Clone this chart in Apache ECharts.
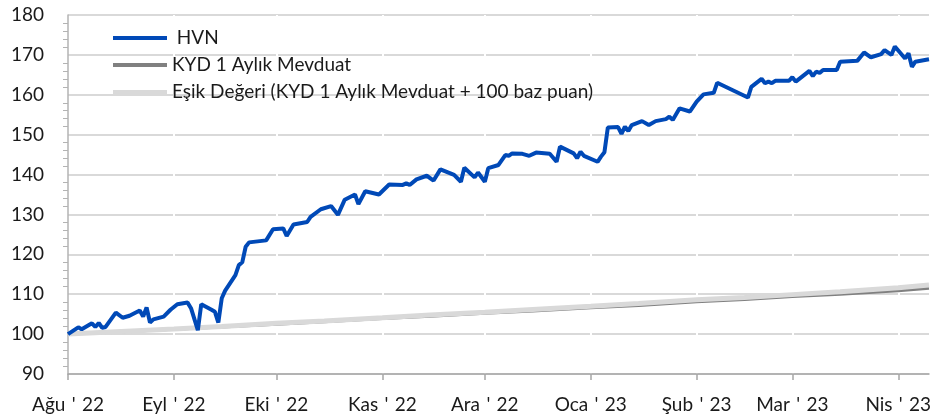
<!DOCTYPE html>
<html>
<head>
<meta charset="utf-8">
<script src="https://cdn.jsdelivr.net/npm/echarts@6/dist/echarts.min.js"></script>
<style>
  html, body { margin: 0; padding: 0; background: #fff; }
  #chart { width: 950px; height: 420px; }
</style>
</head>
<body>
<div id="chart"></div>
<script>
// ay başları ve etiketleri
var monthStarts = ['2022-08-01', '2022-09-01', '2022-10-01', '2022-11-01', '2022-12-01',
  '2023-01-01', '2023-02-01', '2023-03-01', '2023-04-01'];
var monthLabels = ['Ağu\u2004\'\u200422', 'Eyl\u2004\'\u200422', 'Eki\u2004\'\u200422', 'Kas\u2004\'\u200422',
  'Ara\u2004\'\u200422', 'Oca\u2004\'\u200423', 'Şub\u2004\'\u200423', 'Mar\u2004\'\u200423', 'Nis\u2004\'\u200423'];

// HVN
var hvnDates = [
  '2022-08-01', '2022-08-04', '2022-08-05', '2022-08-08', '2022-08-09', '2022-08-10', '2022-08-11', '2022-08-12',
  '2022-08-15', '2022-08-17', '2022-08-19', '2022-08-22', '2022-08-23', '2022-08-24', '2022-08-25', '2022-08-26',
  '2022-08-29', '2022-08-31', '2022-09-02', '2022-09-05', '2022-09-06', '2022-09-08', '2022-09-09', '2022-09-12',
  '2022-09-13', '2022-09-14', '2022-09-15', '2022-09-16', '2022-09-19', '2022-09-20', '2022-09-21', '2022-09-22',
  '2022-09-23', '2022-09-28', '2022-09-30', '2022-10-03', '2022-10-04', '2022-10-06', '2022-10-10', '2022-10-11',
  '2022-10-14', '2022-10-17', '2022-10-19', '2022-10-21', '2022-10-24', '2022-10-25', '2022-10-27', '2022-10-31',
  '2022-11-03', '2022-11-07', '2022-11-08', '2022-11-09', '2022-11-11', '2022-11-14', '2022-11-16', '2022-11-18',
  '2022-11-22', '2022-11-24', '2022-11-25', '2022-11-28', '2022-11-29', '2022-12-01', '2022-12-02', '2022-12-05',
  '2022-12-07', '2022-12-08', '2022-12-09', '2022-12-12', '2022-12-14', '2022-12-16', '2022-12-20', '2022-12-22',
  '2022-12-23', '2022-12-27', '2022-12-28', '2022-12-29', '2022-12-30', '2023-01-03', '2023-01-04', '2023-01-05',
  '2023-01-06', '2023-01-09', '2023-01-10', '2023-01-11', '2023-01-12', '2023-01-13', '2023-01-16', '2023-01-18',
  '2023-01-20', '2023-01-23', '2023-01-24', '2023-01-25', '2023-01-27', '2023-01-30', '2023-02-01', '2023-02-03',
  '2023-02-06', '2023-02-07', '2023-02-16', '2023-02-17', '2023-02-20', '2023-02-21', '2023-02-22', '2023-02-23',
  '2023-02-24', '2023-02-28', '2023-03-01', '2023-03-02', '2023-03-06', '2023-03-07', '2023-03-08', '2023-03-09',
  '2023-03-10', '2023-03-14', '2023-03-15', '2023-03-20', '2023-03-22', '2023-03-24', '2023-03-27', '2023-03-28',
  '2023-03-30', '2023-03-31', '2023-04-03', '2023-04-04', '2023-04-05', '2023-04-06', '2023-04-10'
];
var hvnValues = [
  100.0, 101.7, 101.2, 102.7, 101.8, 102.8, 101.6, 101.8,
  105.4, 104.1, 104.6, 105.9, 104.4, 106.7, 102.9, 103.7,
  104.4, 106.1, 107.5, 107.9, 106.5, 101.0, 107.5, 106.1,
  105.6, 102.9, 109.0, 110.9, 114.8, 117.3, 118.0, 121.9,
  123.0, 123.5, 126.3, 126.5, 124.6, 127.5, 128.1, 129.4,
  131.3, 132.1, 129.9, 133.7, 135.0, 132.6, 135.8, 135.0,
  137.5, 137.4, 137.8, 137.4, 138.8, 139.7, 138.5, 141.3,
  139.9, 138.2, 141.7, 139.3, 140.5, 138.2, 141.6, 142.4,
  144.9, 144.7, 145.3, 145.2, 144.7, 145.5, 145.2, 143.2,
  147.0, 145.3, 144.1, 145.7, 144.7, 143.2, 144.5, 145.6,
  151.8, 151.9, 150.2, 152.0, 150.9, 152.4, 153.4, 152.4,
  153.4, 153.9, 154.5, 153.7, 156.6, 155.8, 158.3, 160.1,
  160.5, 163.0, 159.3, 162.0, 164.0, 162.9, 163.3, 162.9,
  163.5, 163.5, 164.4, 163.3, 166.0, 164.7, 165.8, 165.5,
  166.2, 166.2, 168.3, 168.5, 170.6, 169.4, 170.2, 171.2,
  170.0, 172.1, 169.1, 170.4, 167.0, 168.3, 168.9
];

// KYD 1 Aylık Mevduat ve eşik değeri
var refDates = [
  '2022-08-01', '2022-08-15', '2022-09-01', '2022-09-15', '2022-10-01', '2022-10-15',
  '2022-11-01', '2022-11-15', '2022-12-01', '2022-12-15', '2023-01-01', '2023-01-15',
  '2023-02-01', '2023-02-15', '2023-03-01', '2023-03-15', '2023-04-01', '2023-04-10'
];
var kydValues = [100.0, 100.5, 101.2, 101.8, 102.5, 103.1, 103.9, 104.5, 105.2,
  105.8, 106.6, 107.2, 108.1, 108.7, 109.4, 110.0, 110.9, 111.5];
var esikValues = [100.0, 100.6, 101.3, 101.9, 102.7, 103.3, 104.1, 104.8, 105.5,
  106.2, 107.0, 107.7, 108.6, 109.2, 109.9, 110.6, 111.6, 112.3];

var seriesNames = [' HVN', 'KYD 1 Aylık Mevduat', 'Eşik Değeri (KYD 1 Aylık Mevduat + 100 baz puan)'];

// tarih -> gün sayısı (value ekseni için)
function toDay(s) {
  var p = s.split('-');
  return Date.UTC(+p[0], +p[1] - 1, +p[2]) / 86400000;
}
function pairs(dates, values) {
  return dates.map(function (d, i) { return [toDay(d), values[i]]; });
}

var monthDays = monthStarts.map(toDay);
var font = 'Lato, "Open Sans", sans-serif';

var chart = echarts.init(document.getElementById('chart'));

chart.setOption({
  animation: false,
  grid: { left: 68, right: 21, top: 15, bottom: 46, containLabel: false },
  legend: {
    orient: 'vertical',
    left: 113,
    top: 28,
    padding: 0,
    icon: 'rect',
    itemWidth: 54,
    itemHeight: 4,
    itemGap: 7,
    textStyle: { fontFamily: font, fontSize: 19, lineHeight: 20, color: '#1a1a1a' },
    data: seriesNames
  },
  xAxis: {
    type: 'value',
    z: 1,
    min: monthDays[0],
    max: toDay('2023-04-10'),
    axisLine: { show: true, lineStyle: { color: '#a6a6a6', width: 1.5 } },
    axisTick: { show: true, length: 6, customValues: monthDays, lineStyle: { color: '#a6a6a6', width: 1.5 } },
    axisLabel: {
      customValues: monthDays,
      margin: 21,
      fontFamily: font,
      fontSize: 19,
      color: '#1a1a1a',
      formatter: function (v) {
        var i = monthDays.indexOf(v);
        return i >= 0 ? monthLabels[i] : '';
      }
    },
    splitLine: { show: true, showMinLine: false, lineStyle: { color: '#ffffff', width: 2 } }
  },
  yAxis: {
    type: 'value',
    min: 90,
    max: 180,
    interval: 10,
    axisLine: { show: true, lineStyle: { color: '#b3b3b3', width: 1.5 } },
    axisTick: { show: false },
    minorTick: { show: true, splitNumber: 5, length: 5, lineStyle: { color: '#b3b3b3' } },
    axisLabel: { margin: 24, fontFamily: font, fontSize: 19, color: '#1a1a1a' },
    splitLine: { show: true, lineStyle: { color: '#d9d9d9', width: 2 } }
  },
  series: [
    {
      name: seriesNames[0],
      type: 'line',
      z: 4,
      symbol: 'none',
      data: pairs(hvnDates, hvnValues),
      lineStyle: { color: '#0049b7', width: 4 },
      itemStyle: { color: '#0049b7' }
    },
    {
      name: seriesNames[1],
      type: 'line',
      z: 2,
      symbol: 'none',
      data: pairs(refDates, kydValues),
      lineStyle: { color: '#808080', width: 3 },
      itemStyle: { color: '#808080' }
    },
    {
      name: seriesNames[2],
      type: 'line',
      z: 3,
      symbol: 'none',
      data: pairs(refDates, esikValues),
      lineStyle: { color: '#d9d9d9', width: 5 },
      itemStyle: { color: '#d9d9d9' }
    }
  ]
});
</script>
</body>
</html>
